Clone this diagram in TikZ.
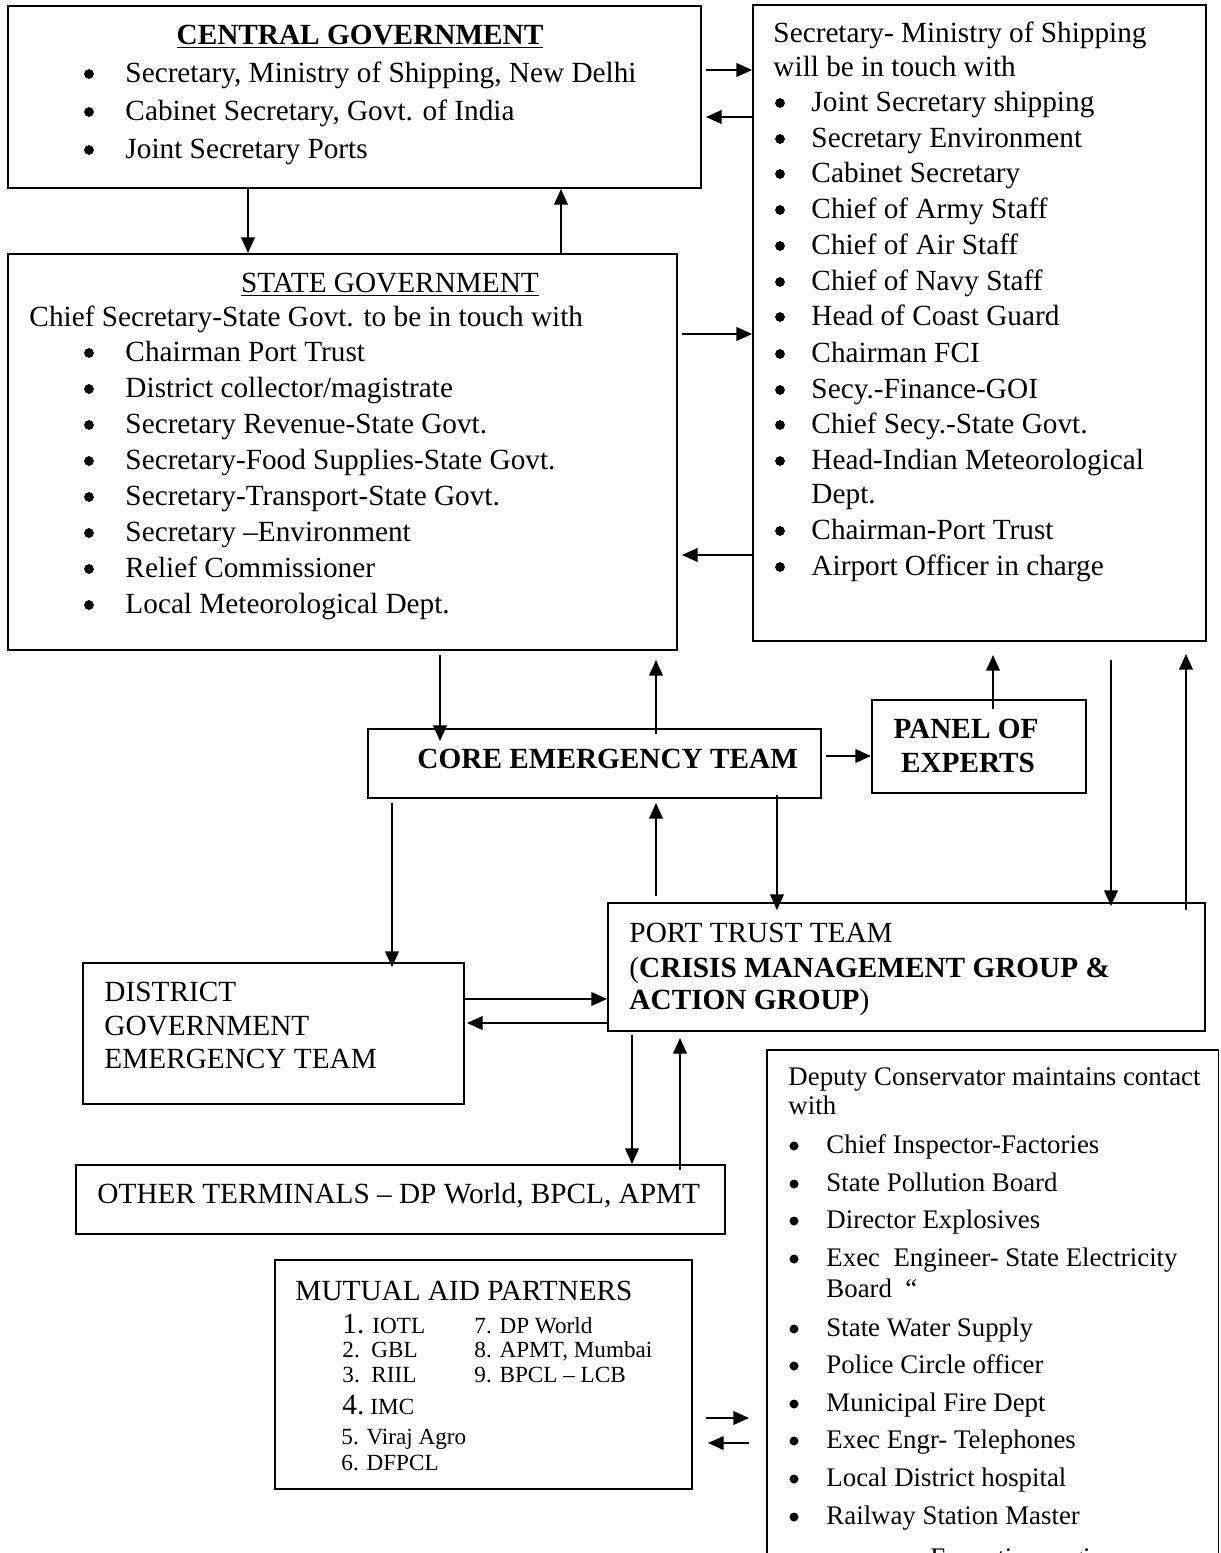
\documentclass[tikz,border=0pt]{standalone}
\usepackage{fontspec}
\setmainfont{Liberation Serif}
\usetikzlibrary{arrows.meta,calc,fit}
\begin{document}
\begin{tikzpicture}[x=0.41pt,y=-0.41pt,
  box/.style={draw, line width=0.7pt, inner sep=0pt},
  arr/.style={line width=1.1pt, -{Triangle[length=6.5pt,width=5.5pt]}},
  txt/.style={anchor=base west, inner sep=0pt, font=\fontsize{12}{14}\selectfont},
  ctxt/.style={anchor=base, inner sep=0pt, font=\fontsize{12}{14}\selectfont},
  bul/.style={circle, fill, inner sep=0pt, minimum size=4pt},
  dbul/.style={circle, fill, inner sep=0pt, minimum size=3.7pt},
  dtxt/.style={anchor=base west, inner sep=0pt, font=\fontsize{11}{13}\selectfont},
  stxt/.style={anchor=base west, inner sep=0pt, font=\fontsize{9.5}{11}\selectfont}]
\useasboundingbox (0,0) rectangle (1220,1553);

% ---------- boxes ----------
\node[box, fit={(8,6) (701,188)}] (cg) {};
\node[box, fit={(753,5) (1206,641)}] (rt) {};
\node[box, fit={(8,254) (677,650)}] (sg) {};
\node[box, fit={(368,729) (821,798)}] (core) {};
\node[box, fit={(872,700) (1086,793)}] (panel) {};
\node[box, fit={(608,903) (1205,1031)}] (port) {};
\node[box, fit={(83,963) (464,1104)}] (dist) {};
\node[box, fit={(76,1165) (725,1234)}] (other) {};
\node[box, fit={(275,1260) (692,1489)}] (mutual) {};
\begin{scope}
  \clip (0,0) rectangle (1220,1553);
  \node[box, fit={(767,1050) (1218.5,1620)}] (dep) {};
  \node[dtxt] (dep12) at (930,1566) {Executive engineer};
\end{scope}

% ---------- central government ----------
\node[ctxt] (cgtitle) at (360,44) {\bfseries\underline{CENTRAL GOVERNMENT}};
\foreach \yy/\lbl [count=\i] in {82/{Secretary, Ministry of Shipping, New Delhi},
    120/{Cabinet Secretary, Govt. of India}, 158/{Joint Secretary Ports}}{
  \node[bul] (cgb\i) at (89,\yy-8) {};
  \node[txt] (cgt\i) at (125,\yy) {\lbl};
}

% ---------- secretary ministry of shipping ----------
\node[txt] (rth1) at (773,42) {Secretary- Ministry of Shipping};
\node[txt] (rth2) at (773,76) {will be in touch with};
\foreach \yy/\lbl [count=\i] in {111/{Joint Secretary shipping}, 147/{Secretary Environment},
    182/{Cabinet Secretary}, 218/{Chief of Army Staff}, 254/{Chief of Air Staff},
    290/{Chief of Navy Staff}, 325/{Head of Coast Guard}, 362/{Chairman FCI},
    398/{Secy.-Finance-GOI}, 433/{Chief Secy.-State Govt.},
    469/{Head-Indian Meteorological}, 539/{Chairman-Port Trust}, 575/{Airport Officer in charge}}{
  \node[bul] (rtb\i) at (780,\yy-8) {};
  \node[txt] (rtt\i) at (811,\yy) {\lbl};
}
\node[txt] (rtdept) at (811,503) {Dept.};

% ---------- state government ----------
\node[ctxt] (sgtitle) at (390,292) {\underline{STATE GOVERNMENT}};
\node[txt] (sgh) at (29,326) {Chief Secretary-State Govt. to be in touch with};
\foreach \yy/\lbl [count=\i] in {361/{Chairman Port Trust}, 397/{District collector/magistrate},
    433/{Secretary Revenue-State Govt.}, 469/{Secretary-Food Supplies-State Govt.},
    505/{Secretary-Transport-State Govt.}, 541/{Secretary –Environment},
    577/{Relief Commissioner}, 613/{Local Meteorological Dept.}}{
  \node[bul] (sgb\i) at (89,\yy-8) {};
  \node[txt] (sgt\i) at (125,\yy) {\lbl};
}

% ---------- core / panel ----------
\node[txt] (coret) at (417,768) {\bfseries CORE EMERGENCY TEAM};
\node[ctxt] (panelt1) at (966,738) {\bfseries PANEL OF};
\node[ctxt] (panelt2) at (968,772) {\bfseries EXPERTS};

% ---------- port trust ----------
\node[txt] (portt1) at (629,942) {PORT TRUST TEAM};
\node[txt] (portt2) at (629,977) {(\textbf{CRISIS MANAGEMENT GROUP \&}};
\node[txt] (portt3) at (629,1009) {\textbf{ACTION GROUP})};

% ---------- district ----------
\node[txt] (distt1) at (104,1001) {DISTRICT};
\node[txt] (distt2) at (104,1035) {GOVERNMENT};
\node[txt] (distt3) at (104,1068) {EMERGENCY TEAM};

% ---------- other terminals ----------
\node[txt] (othert) at (97,1203) {OTHER TERMINALS – DP World, BPCL, APMT};

% ---------- mutual aid ----------
\node[txt] (mutt) at (295,1300) {MUTUAL AID PARTNERS};
\node[txt] (m1n) at (342,1333) {1.};
\node[stxt] (m1) at (372,1333) {IOTL};
\node[stxt] (m2) at (342,1357) {2.\ \ GBL};
\node[stxt] (m3) at (342,1382) {3.\ \ RIIL};
\node[txt] (m4n) at (342,1414) {4.};
\node[stxt] (m4) at (370,1414) {IMC};
\node[stxt] (m5) at (341,1444) {5. Viraj Agro};
\node[stxt] (m6) at (341,1470) {6. DFPCL};
\node[stxt] (m7) at (474,1333) {7. DP World};
\node[stxt] (m8) at (474,1357) {8. APMT, Mumbai};
\node[stxt] (m9) at (474,1382) {9. BPCL – LCB};

% ---------- deputy conservator ----------
\node[dtxt] (deph1) at (788,1085) {Deputy Conservator maintains contact};
\node[dtxt] (deph2) at (788,1114) {with};
\foreach \yy/\lbl [count=\i] in {1153/{Chief Inspector-Factories}, 1191/{State Pollution Board},
    1228/{Director Explosives}, 1266/{Exec\ \ Engineer- State Electricity},
    1336/{State Water Supply}, 1373/{Police Circle officer}, 1411/{Municipal Fire Dept},
    1448/{Exec Engr- Telephones}, 1486/{Local District hospital}, 1524/{Railway Station Master}}{
  \node[dbul] (depb\i) at (794,\yy-7) {};
  \node[dtxt] (dept\i) at (826,\yy) {\lbl};
}
\node[dtxt] (depboard) at (826,1297) {Board\ \ “};

% ---------- connectors ----------
\draw[arr] ($(cg.east |- 0,70)+(4,0)$) -- (rt.west |- 0,70);
\draw[arr] (rt.west |- 0,117) -- ($(cg.east |- 0,117)+(4,0)$);
\draw[arr] (cg.south -| 248,0) -- (sg.north -| 248,0);
\draw[arr] (sg.north -| 561,0) -- (cg.south -| 561,0);
\draw[arr] ($(sg.east |- 0,334)+(4,0)$) -- (rt.west |- 0,334);
\draw[arr] (rt.west |- 0,555) -- ($(sg.east |- 0,555)+(4,0)$);
\draw[arr] ($(sg.south -| 440,0)+(0,4)$) -- ($(core.north -| 440,0)+(0,13)$);
\draw[arr] ($(core.north -| 656,0)+(0,6)$) -- ($(sg.south -| 656,0)+(0,9)$);
\draw[arr] ($(core.east |- 0,756)+(4,0)$) -- (panel.west |- 0,756);
\draw[arr] ($(panel.north -| 993,0)+(0,10)$) -- ($(rt.south -| 993,0)+(0,13)$);
\draw[arr] ($(rt.south -| 1111,0)+(0,18)$) -- ($(port.north -| 1111,0)+(0,4)$);
\draw[arr] ($(port.north -| 1186,0)+(0,8)$) -- ($(rt.south -| 1186,0)+(0,12)$);
\draw[arr] ($(core.south -| 777,0)+(0,-4)$) -- ($(port.north -| 777,0)+(0,8)$);
\draw[arr] ($(port.north -| 656,0)+(0,-6)$) -- ($(core.south -| 656,0)+(0,4)$);
\draw[arr] ($(core.south -| 392,0)+(0,4)$) -- ($(dist.north -| 392,0)+(0,5)$);
\draw[arr] (dist.east |- 0,999) -- (port.west |- 0,999);
\draw[arr] (port.west |- 0,1023) -- ($(dist.east |- 0,1023)+(2,0)$);
\draw[arr] ($(port.south -| 632,0)+(0,3)$) -- (other.north -| 632,0);
\draw[arr] ($(other.north -| 680,0)+(0,6)$) -- ($(port.south -| 680,0)+(0,6)$);
\draw[arr] ($(mutual.east |- 0,1418)+(13,0)$) -- ($(dep.west |- 0,1418)+(-17,0)$);
\draw[arr] ($(dep.west |- 0,1443)+(-17,0)$) -- ($(mutual.east |- 0,1443)+(15,0)$);
\end{tikzpicture}
\end{document}
